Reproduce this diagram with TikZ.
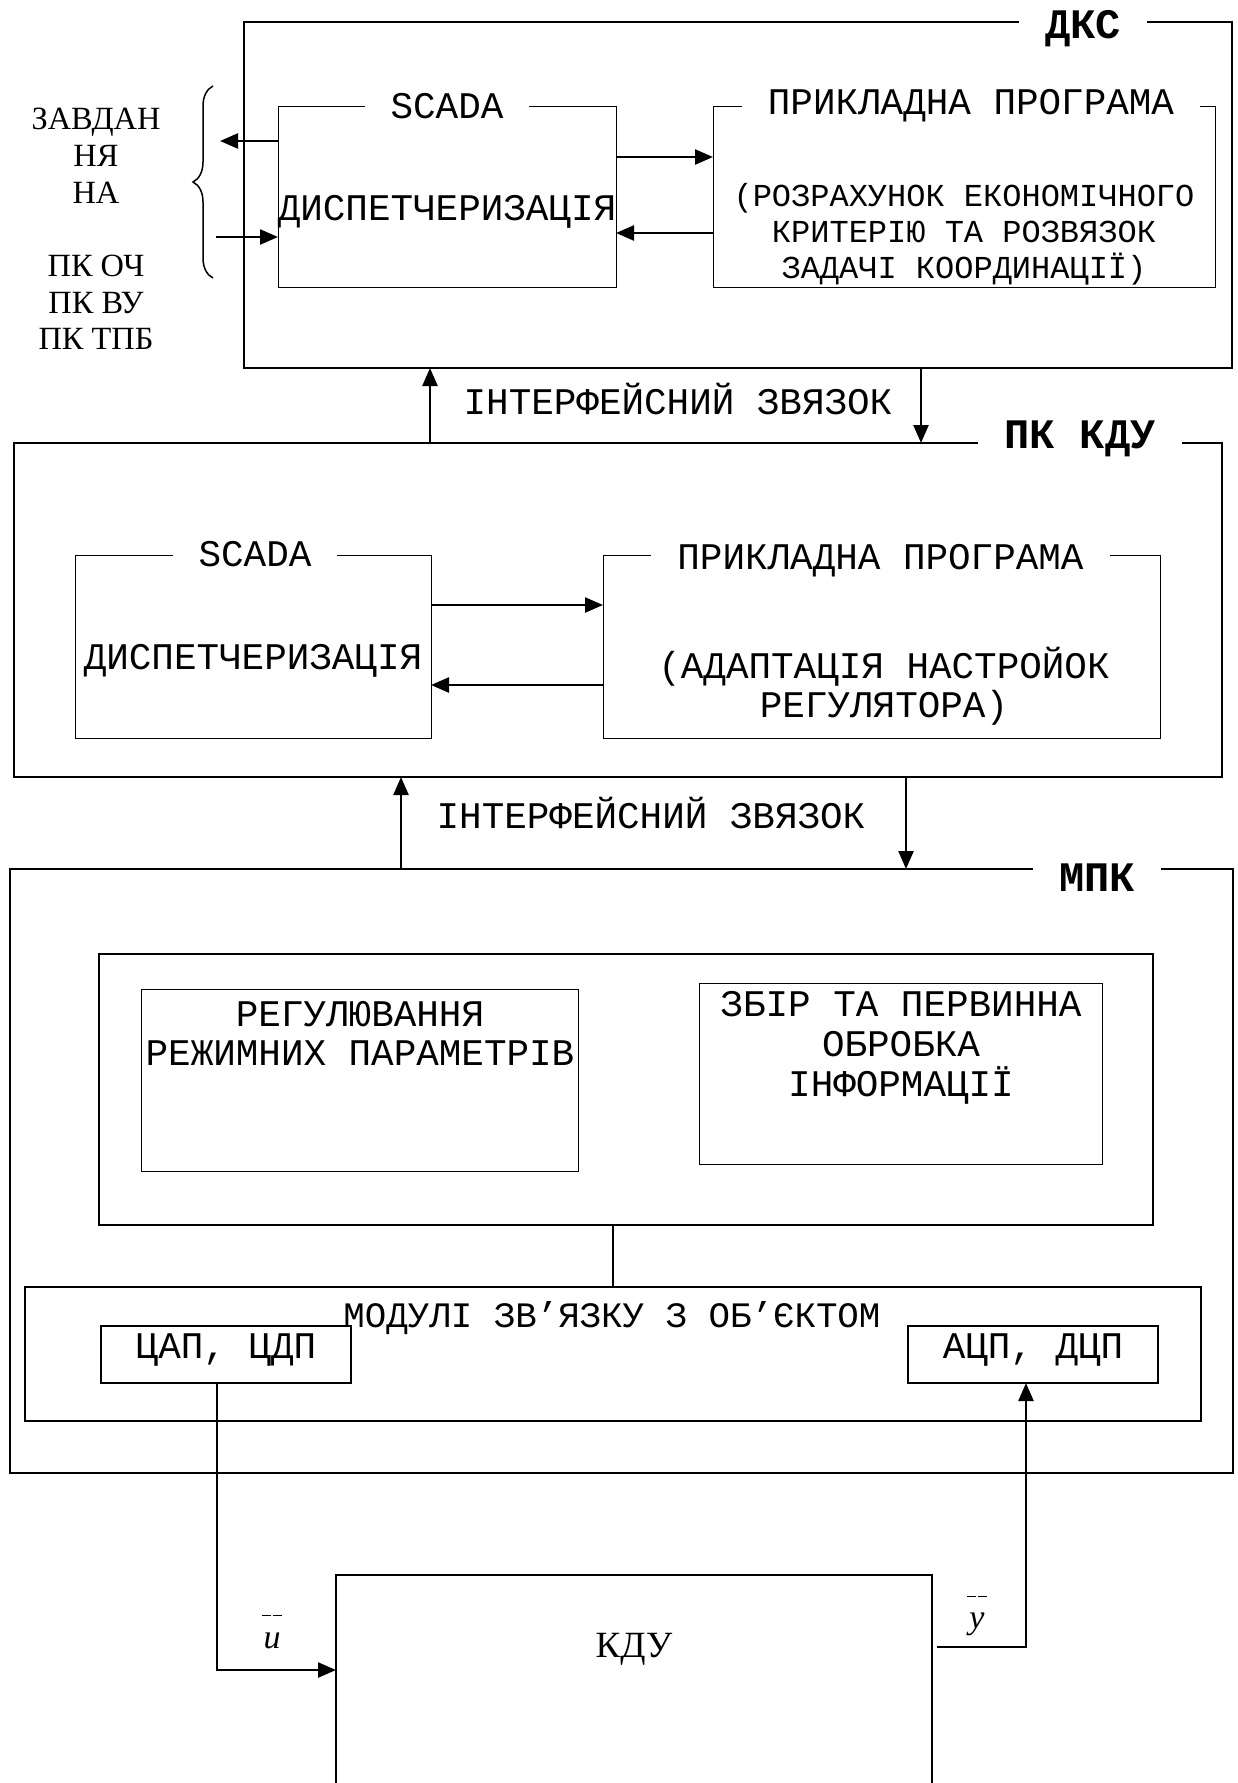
\documentclass[tikz,border=0pt]{standalone}
\usepackage{fontspec}
\setmainfont{Liberation Serif}
\newfontfamily\monof{Liberation Mono}
\usetikzlibrary{arrows.meta,decorations.pathreplacing}
\newcommand\mtxt{\monof\fontsize{18.8}{19.5}\selectfont}
\newcommand\mbody{\monof\fontsize{16}{18}\selectfont}
\newcommand\btxt{\monof\bfseries\fontsize{21}{24}\selectfont}
\newcommand\stxt{\fontsize{16.2}{18.35}\selectfont}
\newcommand\ktxt{\fontsize{18.5}{21}\selectfont}
\newcommand\lbltxt{\fontsize{17}{19}\selectfont}
\begin{document}
\begin{tikzpicture}[x=0.5pt,y=-0.5pt,
  box/.style={draw, rectangle, inner sep=0pt, outer sep=0pt},
  obox/.style={box, line width=1pt},
  mbox/.style={box, line width=0.8pt},
  tbox/.style={box, line width=0.5pt},
  ttl/.style={fill=white, inner xsep=13pt, inner ysep=1pt, font=\mtxt},
  btl/.style={fill=white, inner xsep=13pt, inner ysep=1pt, font=\btxt},
  txt/.style={inner sep=0pt, font=\mtxt, align=center},
  arr/.style={-{Triangle[length=9pt,width=7.5pt]}, line width=1.2pt},
  lbl/.style={inner sep=0pt, align=center, font=\lbltxt}]
\useasboundingbox (0,0) rectangle (1237,1783);
\clip (0,0) rectangle (1237,1783);

% ---------------- DKS ----------------
\node[obox, minimum width=494pt, minimum height=173pt] (dks) at (738,195) {};
\node[tbox, minimum width=169pt, minimum height=90.5pt] (scada1) at (447,196.5) {};
\node[tbox, minimum width=251pt, minimum height=90.5pt] (app1) at (964,196.5) {};
\node[btl] (dksl) at (1083,29) {ДКС};
\node[ttl] (s1t) at (447,106) {SCADA};
\node[ttl] (a1t) at (971,106) {ПРИКЛАДНА ПРОГРАМА};
\node[txt] (d1) at (447,212) {ДИСПЕТЧЕРИЗАЦІЯ};
\node[txt, font=\mbody] (a1b) at (964,234) {(РОЗРАХУНОК ЕКОНОМІЧНОГО\\КРИТЕРІЮ ТА РОЗВЯЗОК\\ЗАДАЧІ КООРДИНАЦІЇ)};

\node[inner sep=0pt, align=center, font=\stxt] (task) at (96,229) {ЗАВДАН\\НЯ\\НА\\[18.35pt]ПК ОЧ\\ПК ВУ\\ПК ТПБ};
\draw[line width=0.75pt, decorate, decoration={brace, amplitude=10pt}] (213,278) -- (213,86);

\coordinate (zo) at (220,141);
\coordinate (zi) at (216,237);
\draw[arr] (scada1.west |- zo) -- (zo);
\draw[arr] (zi) -- (scada1.west |- zi);
\draw[arr] ([yshift=19.75pt]scada1.east) -- ([yshift=19.75pt]app1.west);
\draw[arr] ([yshift=-18.25pt]app1.west) -- ([yshift=-18.25pt]scada1.east);

% ---------------- PK KDU ----------------
\node[obox, minimum width=604pt, minimum height=167pt] (pk) at (618,610) {};
\node[tbox, minimum width=178pt, minimum height=91.5pt] (scada2) at (253,646.5) {};
\node[tbox, minimum width=278.5pt, minimum height=91.5pt] (app2) at (881.5,646.5) {};
\node[btl] (pkl) at (1080,439) {ПК КДУ};
\node[ttl] (s2t) at (255,554) {SCADA};
\node[ttl] (a2t) at (880.5,561) {ПРИКЛАДНА ПРОГРАМА};
\node[txt] (d2) at (253,661) {ДИСПЕТЧЕРИЗАЦІЯ};
\node[txt] (a2b) at (884,686) {(АДАПТАЦІЯ НАСТРОЙОК\\РЕГУЛЯТОРА)};
\draw[arr] ([yshift=20.75pt]scada2.east) -- ([yshift=20.75pt]app2.west);
\draw[arr] ([yshift=-19.25pt]app2.west) -- ([yshift=-19.25pt]scada2.east);

\coordinate (i1u) at (430,0);
\coordinate (i1d) at (921,0);
\draw[arr] (pk.north -| i1u) -- (dks.south -| i1u);
\draw[arr] (dks.south -| i1d) -- (pk.north -| i1d);
\node[txt] (if1) at (678,399) {ІНТЕРФЕЙСНИЙ ЗВЯЗОК};

% ---------------- MPK ----------------
\node[obox, minimum width=611.5pt, minimum height=302pt] (mpk) at (621.5,1171) {};
\node[btl] (mpkl) at (1097,878) {МПК};
\coordinate (i2u) at (401,0);
\coordinate (i2d) at (906,0);
\draw[arr] (mpk.north -| i2u) -- (pk.south -| i2u);
\draw[arr] (pk.south -| i2d) -- (mpk.north -| i2d);
\node[txt] (if2) at (651,813) {ІНТЕРФЕЙСНИЙ ЗВЯЗОК};

\node[mbox, minimum width=527pt, minimum height=135.5pt] (inner) at (626,1089.5) {};
\node[tbox, minimum width=218.5pt, minimum height=91pt] (reg) at (359.5,1080) {};
\node[txt] (regt) at (360,1033) {РЕГУЛЮВАННЯ\\РЕЖИМНИХ ПАРАМЕТРІВ};
\node[tbox, minimum width=201.5pt, minimum height=90.5pt] (zbir) at (900.5,1073.5) {};
\node[txt, font=\monof\fontsize{18.8}{20}\selectfont] (zbt) at (901,1048) {ЗБІР ТА ПЕРВИННА\\ОБРОБКА\\ІНФОРМАЦІЇ};

\node[mbox, minimum width=588pt, minimum height=67pt] (mod) at (613,1354) {};
\draw[line width=0.6pt] (inner.south -| mod.north) -- (mod.north);
\node[obox, minimum width=125pt, minimum height=28.5pt] (cap) at (226,1354.5) {};
\node[obox, minimum width=125pt, minimum height=28.5pt] (acp) at (1033,1354.5) {};
\node[txt] (capt) at (226,1350) {ЦАП, ЦДП};
\node[txt] (acpt) at (1033,1350) {АЦП, ДЦП};
\node[txt, font=\monof\fontsize{17.9}{19}\selectfont] (modt) at (612,1318) {МОДУЛІ ЗВ’ЯЗКУ З ОБ’ЄКТОМ};

% ---------------- KDU ----------------
\node[obox, minimum width=298pt, minimum height=112.5pt] (kdu) at (634,1687.5) {};
\node[inner sep=0pt, font=\ktxt] (kdut) at (634,1649) {КДУ};
\coordinate (uc) at (217,1670);
\coordinate (yc) at (1026,1647);
\draw[arr] (cap.south -| uc) -- (uc) -- (kdu.west |- uc);
\draw[arr, shorten <=2.5pt] (kdu.east |- yc) -- (yc) -- (acp.south -| yc);
\node[lbl] (ul) at (272,1632) {\rule{4.5pt}{0.4pt}\hspace{1pt}\rule{4.5pt}{0.4pt}\\[-3pt]\textit{u}};
\node[lbl] (yl) at (977,1616) {\rule{4.5pt}{0.4pt}\hspace{1pt}\rule{4.5pt}{0.4pt}\\[-3pt]\textit{y}};
\end{tikzpicture}
\end{document}
